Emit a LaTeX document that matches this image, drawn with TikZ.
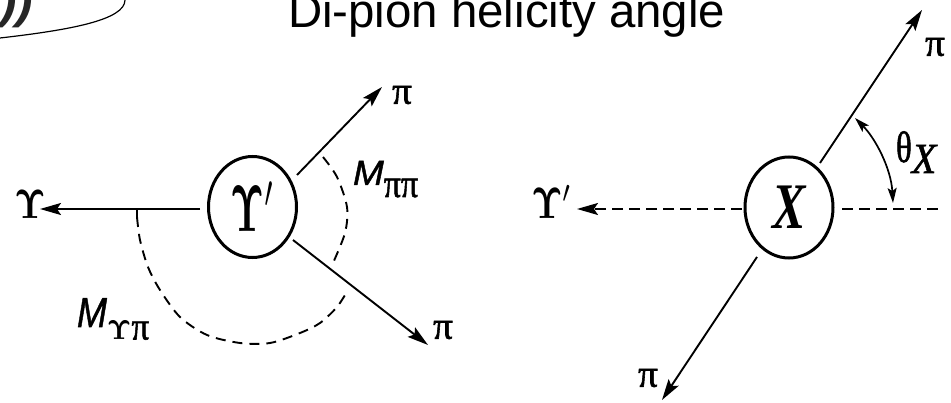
\documentclass[tikz,border=0pt]{standalone}
\usepackage{amsmath}
\usepackage[no-math]{fontspec}
\usepackage{graphicx}
\newfontfamily\titlefont{Liberation Sans}
\newfontfamily\sansit[FakeBold=1.2]{Liberation Sans Italic}
\newfontfamily\grkfont[FakeBold=1.5]{Liberation Serif}
\newfontfamily\serifbi{Liberation Serif Bold Italic}
\newfontfamily\serifit[FakeBold=1.5]{Liberation Serif Italic}
\usetikzlibrary{shapes.geometric,arrows.meta}
\tikzset{
  partcircle/.style={draw, ellipse, line width=3pt, minimum width=88pt, minimum height=101pt, inner sep=0pt},
  tip/.style={-{Stealth[length=21pt,width=12pt,inset=4pt]}},
  track/.style={line width=1.9pt, tip},
  dtrack/.style={line width=1.9pt, dash pattern=on 11pt off 6pt, tip},
  dline/.style={line width=1.9pt, dash pattern=on 11pt off 6pt},
  massarc/.style={line width=1.9pt, dash pattern=on 10pt off 7pt},
  anglearc/.style={line width=1.7pt, {Stealth[length=15pt,width=9pt,inset=3pt]}-{Stealth[length=15pt,width=9pt,inset=3pt]}},
  lbl/.style={inner sep=0pt, outer sep=0pt},
}
\begin{document}
\begin{tikzpicture}[x=1pt,y=-1pt]
\useasboundingbox (0,0) rectangle (951,403);
\clip (0,0) rectangle (951,403);

% fragment at top left
\node[lbl, anchor=base west, text=black!85] (frag) at (0,18) {\fontsize{50}{55}\titlefont\bfseries\itshape ))};
\coordinate (fa) at (0,38);
\coordinate (fb) at (125,0);
\draw[line width=1.2pt] (fa) .. controls (70,30) and (125,20) .. (fb);

% title
\node[lbl, anchor=base west] (title) at (288,28) {\fontsize{47.4}{50}\titlefont Di-pion helicity angle};

% ---------------- left diagram ----------------
\node[partcircle] (ups1) at (252.5,207) {\scalebox{3.8}[6.6]{$\mathbf{\Upsilon}'$}};
\node[lbl] (upsL) at (30,204) {\scalebox{3.5}[4.1]{$\mathbf{\Upsilon}$}};
\coordinate (ls) at (200,209);
\coordinate (lt) at (40,209);
\draw[track] (ls) -- (lt);
\coordinate (tk) at (137,209);
\coordinate (tkb) at (137,217);
\draw[line width=1.6pt] (tk) -- (tkb);

\coordinate (p1s) at (297,175);
\coordinate (p1t) at (382,87);
\draw[track] (p1s) -- (p1t);
\coordinate (p2s) at (293,240);
\coordinate (p2t) at (428,345);
\draw[track] (p2s) -- (p2t);

\node[lbl] (pi1) at (402,95) {\scalebox{3.9}{\grkfont π}};
\node[lbl] (pi2) at (443,330) {\scalebox{3.9}{\grkfont π}};

\draw[massarc] plot[smooth] coordinates {(137,217) (140,240) (148,267) (160,290) (180,317) (207,335) (240,343) (270,343) (300,333) (320,323) (337,307) (348,290)};
\draw[massarc] plot[smooth] coordinates {(323,157) (337,177) (347,207) (345,233) (333,263)};

\node[lbl, anchor=base west] (mpp) at (353,185) {\scalebox{3.7}[3.5]{\sansit M}\scalebox{3.4}[4]{\raisebox{-3pt}{\grkfont ππ}}};
\node[lbl, anchor=base west] (mup) at (77,327) {\scalebox{3.6}[4.2]{\sansit M}\scalebox{3.5}[3.9]{\raisebox{-3.2pt}{$\scriptstyle\mathbf{\Upsilon}$\grkfont π}}};

% ---------------- right diagram ----------------
\node[partcircle] (xc) at (789,207.5) {\scalebox{5}[6.5]{\serifbi X}};
\node[lbl] (upsR) at (552,202) {\scalebox{3.5}[4.4]{$\mathbf{\Upsilon}'$}};
\coordinate (rs) at (742,209);
\coordinate (rt) at (577,209);
\draw[dtrack] (rs) -- (rt);
\coordinate (rds) at (842,209);
\coordinate (rde) at (940,209);
\draw[dline] (rds) -- (rde);

\coordinate (q1s) at (820,163);
\coordinate (q1t) at (922,10);
\draw[track] (q1s) -- (q1t);
\coordinate (q2s) at (757,257);
\coordinate (q2t) at (662,400);
\draw[track] (q2s) -- (q2t);

\node[lbl] (pi3) at (935,47) {\scalebox{3.9}{\grkfont π}};
\node[lbl] (pi4) at (648,378) {\scalebox{3.9}{\grkfont π}};

\coordinate (ta) at (855,118);
\coordinate (tb) at (893,203);
\draw[anglearc] (ta) .. controls (875,138) and (891,168) .. (tb);
\node[lbl, anchor=base west] (thx) at (896,162) {\scalebox{3.3}[4.4]{\grkfont θ}\raisebox{-11pt}{\scalebox{4}[4.3]{\serifit X}}};
\end{tikzpicture}
\end{document}
